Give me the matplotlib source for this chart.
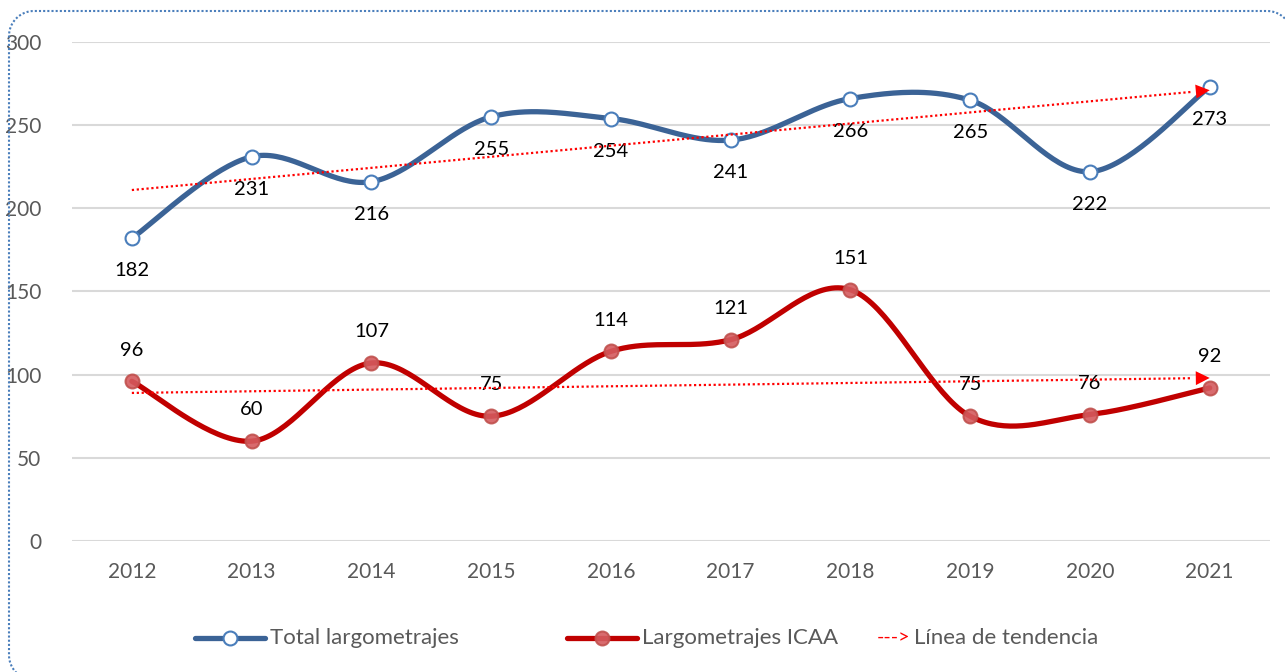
import numpy as np
import matplotlib.pyplot as plt
from matplotlib.lines import Line2D
from matplotlib.transforms import IdentityTransform

years = ["2012", "2013", "2014", "2015", "2016", "2017", "2018", "2019", "2020", "2021"]
total = [182, 231, 216, 255, 254, 241, 266, 265, 222, 273]
icaa = [96, 60, 107, 75, 114, 121, 151, 75, 76, 92]
# trend arrows as drawn in the original (start value, end value)
trend_total = [211, 271]
trend_icaa = [89, 98]

blue = "#3B6396"
blue_edge = "#4A7EBB"
red = "#C00000"
grey_txt = "#595959"

plt.rcParams["font.family"] = ["Lato", "DejaVu Sans"]


def smooth(x, y, n=40):
    # Catmull-Rom style bezier (like Excel smoothed lines)
    x = np.asarray(x, float)
    y = np.asarray(y, float)
    px = np.concatenate([[x[0]], x, [x[-1]]])
    py = np.concatenate([[y[0]], y, [y[-1]]])
    xs, ys = [], []
    t = np.linspace(0, 1, n)
    for i in range(1, len(px) - 2):
        p0 = np.array([px[i], py[i]])
        p3 = np.array([px[i + 1], py[i + 1]])
        p1 = p0 + (np.array([px[i + 1], py[i + 1]]) - np.array([px[i - 1], py[i - 1]])) / 6
        p2 = p3 - (np.array([px[i + 2], py[i + 2]]) - np.array([px[i], py[i]])) / 6
        b = ((1 - t) ** 3)[:, None] * p0 + (3 * (1 - t) ** 2 * t)[:, None] * p1 \
            + (3 * (1 - t) * t ** 2)[:, None] * p2 + (t ** 3)[:, None] * p3
        xs.extend(b[:, 0])
        ys.extend(b[:, 1])
    return np.array(xs), np.array(ys)


fig = plt.figure(figsize=(12.85, 6.72), dpi=100)
ax = fig.add_axes([0.056, 0.195, 0.932, 0.7425])
x = np.arange(len(years))

ax.set_xlim(-0.5, 9.5)
ax.set_ylim(0, 300)
ax.set_yticks(range(0, 301, 50))
ax.set_xticks(x)
ax.set_xticklabels(years)
ax.tick_params(length=0, labelsize=15, colors=grey_txt)
ax.tick_params(axis="y", pad=22)
ax.tick_params(axis="x", pad=15)
for s in ax.spines.values():
    s.set_visible(False)
ax.grid(axis="y", color="#D9D9D9", lw=1.5)
ax.set_axisbelow(True)

# lines
sx, sy = smooth(x, total)
ax.plot(sx, sy, color=blue, lw=3.8, solid_capstyle="round", zorder=3)
ax.plot(x, total, "o", ms=10, mfc="white", mec=blue_edge, mew=1.5, zorder=4)
sx, sy = smooth(x, icaa)
ax.plot(sx, sy, color=red, lw=3.8, solid_capstyle="round", zorder=3)
ax.plot(x, icaa, "o", ms=10, mfc="#D45B5E", mec="#C0504D", mew=1.5, alpha=0.9, zorder=4)

# trend arrows
for y0, y1 in (trend_total, trend_icaa):
    m = (y1 - y0) / 9
    ax.plot([0, 8.85], [y0, y0 + m * 8.85], color="red", lw=1.6, ls=(0, (1, 1.2)), zorder=5)
    ax.annotate("", xy=(9, y1), xytext=(8.8, y0 + m * 8.8),
                arrowprops=dict(arrowstyle="-|>,head_length=1.0,head_width=0.5",
                                color="red", lw=0, shrinkA=0, shrinkB=0), zorder=5)

# data labels
for xi, v in zip(x, total):
    ax.annotate(str(v), (xi, v), xytext=(0, -23.5), textcoords="offset points",
                ha="center", va="center", fontsize=14.5, color="black")
for xi, v in zip(x, icaa):
    ax.annotate(str(v), (xi, v), xytext=(0, 22.5), textcoords="offset points",
                ha="center", va="center", fontsize=14.5, color="black")

# legend
ly = (672 - 638) / 672
fig.add_artist(Line2D([195 / 1285, 265 / 1285], [ly, ly], color=blue, lw=3.8,
                      solid_capstyle="round"))
fig.add_artist(Line2D([230 / 1285], [ly], marker="o", ms=10, mfc="white", mec=blue_edge, mew=1.5))
fig.text(270 / 1285, ly, "Total largometrajes", fontsize=16, color=grey_txt, va="center")
fig.add_artist(Line2D([567 / 1285, 637 / 1285], [ly, ly], color=red, lw=3.8,
                      solid_capstyle="round"))
fig.add_artist(Line2D([602 / 1285], [ly], marker="o", ms=10, mfc="#D45B5E", mec="#C0504D",
                      mew=1.5, alpha=0.9))
fig.text(642 / 1285, ly, "Largometrajes ICAA", fontsize=16, color=grey_txt, va="center")
fig.text(877 / 1285, ly, "--->", fontsize=14, color="red", va="center")
fig.text(914 / 1285, ly, "Línea de tendencia", fontsize=16, color=grey_txt, va="center")

# dotted rounded frame, drawn as a dense polyline in pixel coordinates
L, R, T, B, r = 9, 1292, 661, -8, 25
a = np.linspace(0, np.pi / 2, 30)
bl = (L + r - r * np.sin(a), B + r - r * np.cos(a))   # bottom-left corner
tl = (L + r - r * np.cos(a), T - r + r * np.sin(a))   # top-left corner
tr = (R - r + r * np.sin(a), T - r + r * np.cos(a))   # top-right corner
fx = np.concatenate([bl[0], tl[0], tr[0], [R]])
fy = np.concatenate([bl[1], tl[1], tr[1], [B]])
fig.add_artist(Line2D(fx, fy, transform=IdentityTransform(), color="#4A7EBB",
                      lw=1.5, ls=(0, (1, 1))))

fig.savefig("out.png", dpi=100)
